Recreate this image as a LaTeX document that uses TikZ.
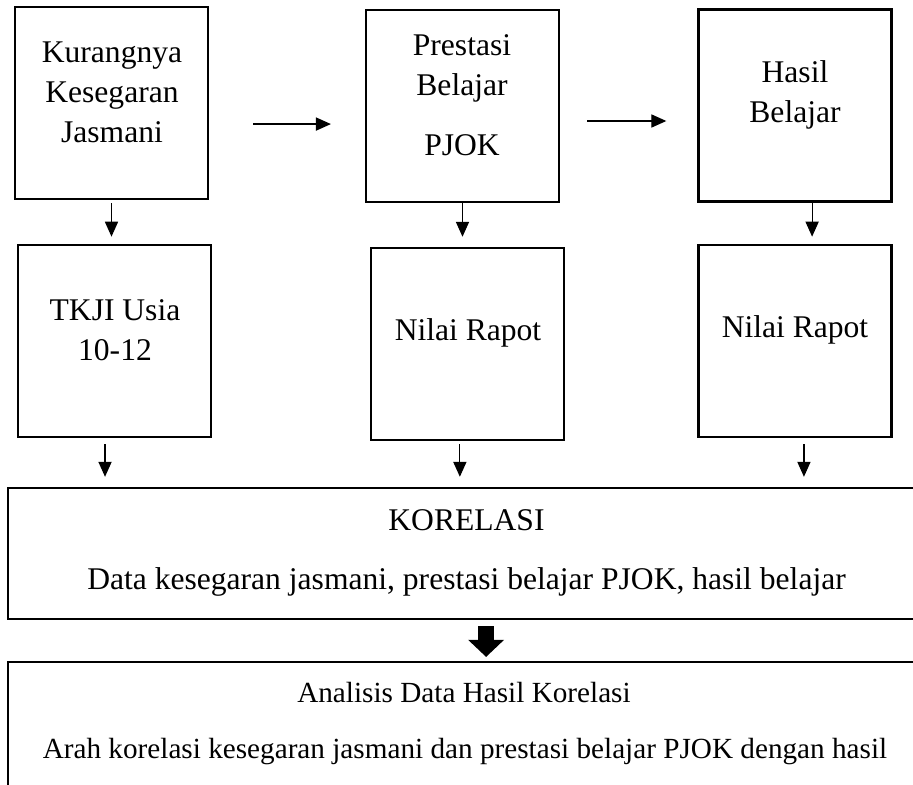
\documentclass[tikz,border=0pt]{standalone}
\usepackage{fontspec}
\setmainfont{Liberation Serif}
\usetikzlibrary{arrows.meta}

\begin{document}
\begin{tikzpicture}[
        x=0.38pt,
        y=-0.38pt,
        kotak/.style={draw, line width=0.9pt, minimum width=73.3pt, minimum height=73pt, inner sep=0pt},
        lebar/.style={draw, line width=0.9pt, minimum width=350.4pt, inner sep=0pt},
        teks/.style={align=center, inner sep=0pt, font=\fontsize{12}{15.2}\selectfont},
        tekskecil/.style={teks, font=\fontsize{11.1}{15.2}\selectfont},
        panah/.style={line width=0.45pt, -{Triangle[length=5.7pt, width=5pt]}},
        panahbesar/.style={line width=6pt, -{Triangle[length=6.5pt, width=13.3pt]}}
    ]
        \clip (0, 0) rectangle (913, 785);

        \node[kotak] (kurang) at (111.5, 103) {};
        \node[kotak] (prestasi) at (462.5, 106) {};
        \node[kotak] (hasil) at (795, 105.5) {};

        \node[kotak] (tkji) at (114.5, 341) {};
        \node[kotak] (rapotA) at (467.5, 344) {};
        \node[kotak] (rapotB) at (795, 341) {};

        \node[lebar, minimum height=49.8pt] (korelasi) at (469, 553.5) {};
        \node[lebar, minimum height=52.4pt] (analisis) at (469, 731) {};

        \node[teks] (tKurang) at (112, 92) {Kurangnya\\Kesegaran\\Jasmani};
        \node[teks] (tPrestasi) at (462, 95) {Prestasi\\Belajar\\[7.6pt]PJOK};
        \node[teks] (tHasil) at (795, 95) {Hasil\\Belajar};
        \node[teks] (tTkji) at (115, 330) {TKJI Usia\\10-12};
        \node[teks] (tRapotA) at (468, 333) {Nilai Rapot};
        \node[teks] (tRapotB) at (795, 330) {Nilai Rapot};
        \node[teks] (tKorelasi) at (466.5, 520) {KORELASI};
        \node[teks] (tData) at (466.5, 582) {Data kesegaran jasmani, prestasi belajar PJOK, hasil belajar};
        \node[tekskecil] (tAnalisis) at (464, 693) {Analisis Data Hasil Korelasi};
        \node[tekskecil] (tArah) at (465, 752) {Arah korelasi kesegaran jasmani dan prestasi belajar PJOK dengan hasil};

        \draw[panah, shorten <=16.7pt, shorten >=12.9pt] ([yshift=-8pt]kurang.east) -- ([yshift=-8pt]kurang.east -| prestasi.west);
        \draw[panah, shorten <=10.3pt, shorten >=11.8pt] ([yshift=-5.7pt]prestasi.east) -- ([yshift=-5.7pt]prestasi.east -| hasil.west);

        \draw[panah, shorten <=1.1pt, shorten >=2.7pt] (kurang.south) -- (kurang.south |- tkji.north);
        \draw[panah, shorten <=0pt, shorten >=3.8pt] (prestasi.south) -- (prestasi.south |- rapotA.north);
        \draw[panah, shorten <=0pt, shorten >=2.7pt] ([xshift=6.5pt]hasil.south) -- ([xshift=6.5pt]hasil.south |- rapotB.north);

        \draw[panah, shorten <=2.3pt, shorten >=3.8pt] ([xshift=-3.6pt]tkji.south) -- ([xshift=-3.6pt]tkji.south |- korelasi.north);
        \draw[panah, shorten <=1.1pt, shorten >=3.8pt] ([xshift=-2.9pt]rapotA.south) -- ([xshift=-2.9pt]rapotA.south |- korelasi.north);
        \draw[panah, shorten <=2.3pt, shorten >=3.8pt] ([xshift=3.4pt]rapotB.south) -- ([xshift=3.4pt]rapotB.south |- korelasi.north);

        \draw[panahbesar, shorten <=2.3pt, shorten >=1.5pt] ([xshift=6.5pt]korelasi.south) -- ([xshift=6.5pt]korelasi.south |- analisis.north);
    \end{tikzpicture}
\end{document}
